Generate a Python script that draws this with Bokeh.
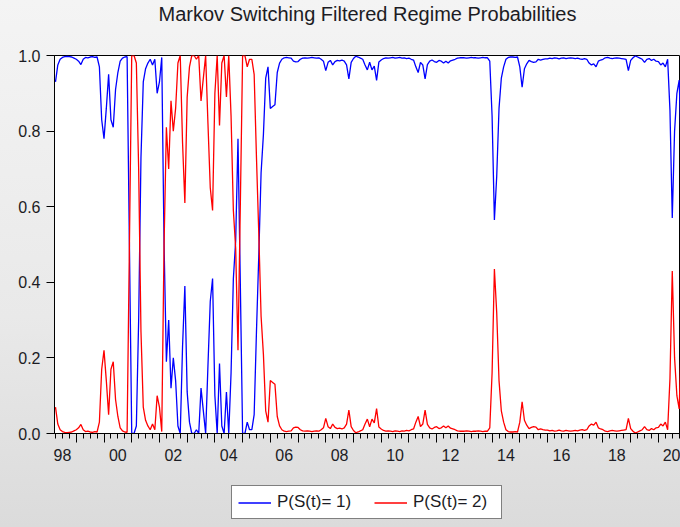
import pandas as pd
from bokeh.plotting import figure
from bokeh.layouts import column
from bokeh.models import (ColumnDataSource, FixedTicker, LinearAxis, Legend,
                          LegendItem, Range1d)
from bokeh.embed import file_html
from bokeh.resources import INLINE

# ---------------- data (monthly) ----------------
start_month = "1998-04-01"
title_text = "Markov Switching Filtered Regime Probabilities"
series_names = ["P(S(t)= 1)", "P(S(t)= 2)"]
series_colors = ["#0000ff", "#ff0000"]

# P(S(t)=1), filtered probability of regime 1
p_regime1 = [
    # 1998 (Apr-Dec)
    0.93, 0.975, 0.99, 0.995, 0.997, 0.998, 0.997, 0.996, 0.993,
    # 1999
    0.99, 0.985, 0.976, 0.99, 0.995, 0.994, 0.996, 0.997, 0.995, 0.996, 0.97, 0.83,
    # 2000
    0.78, 0.86, 0.95, 0.83, 0.81, 0.91, 0.955, 0.985, 0.993, 0.996, 0.997, 0.5,
    # 2001
    0.0, 0.0, 0.02, 0.3, 0.73, 0.93, 0.965, 0.98, 0.99, 0.975, 0.99, 0.90,
    # 2002
    0.93, 0.995, 0.5, 0.19, 0.30, 0.12, 0.20, 0.14, 0.02, 0.0, 0.23, 0.39,
    # 2003
    0.11, 0.03, 0.0, 0.0, 0.01, 0.0, 0.12, 0.06, 0.0, 0.18, 0.35, 0.41,
    # 2004
    0.10, 0.0, 0.185, 0.02, 0.0, 0.11, 0.0, 0.16, 0.41, 0.51, 0.78, 0.40,
    # 2005
    0.0, 0.0, 0.03, 0.01, 0.01, 0.05, 0.27, 0.47, 0.69, 0.79, 0.94, 0.97,
    # 2006
    0.86, 0.865, 0.87, 0.955, 0.98, 0.99, 0.994, 0.995, 0.994, 0.993, 0.985, 0.983,
    # 2007
    0.984, 0.99, 0.993, 0.994, 0.993, 0.994, 0.995, 0.994, 0.993, 0.994, 0.99, 0.985,
    # 2008
    0.96, 0.982, 0.987, 0.975, 0.984, 0.987, 0.986, 0.988, 0.985, 0.975, 0.938, 0.982,
    # 2009
    0.992, 0.998, 0.996, 0.993, 0.99, 0.975, 0.962, 0.982, 0.962, 0.972, 0.934, 0.983,
    # 2010
    0.988, 0.992, 0.994, 0.993, 0.994, 0.995, 0.993, 0.994, 0.995, 0.993, 0.994, 0.992,
    # 2011
    0.993, 0.99, 0.988, 0.97, 0.955, 0.982, 0.975, 0.938, 0.976, 0.985, 0.988, 0.984,
    # 2012
    0.982, 0.987, 0.985, 0.98, 0.985, 0.98, 0.986, 0.988, 0.99, 0.993, 0.994, 0.994,
    # 2013
    0.994, 0.993, 0.994, 0.995, 0.994, 0.994, 0.993, 0.994, 0.995, 0.994, 0.994, 0.985,
    # 2014
    0.84, 0.565, 0.68, 0.86, 0.94, 0.97, 0.99, 0.995, 0.996, 0.996, 0.995, 0.996,
    # 2015
    0.97, 0.916, 0.965, 0.978, 0.987, 0.984, 0.982, 0.983, 0.99, 0.988, 0.99, 0.991,
    # 2016
    0.991, 0.993, 0.992, 0.994, 0.993, 0.991, 0.993, 0.994, 0.992, 0.993, 0.994, 0.993,
    # 2017
    0.992, 0.993, 0.991, 0.99, 0.992, 0.99, 0.98, 0.975, 0.978, 0.97, 0.985, 0.988,
    # 2018
    0.99, 0.994, 0.995, 0.993, 0.992, 0.993, 0.994, 0.993, 0.992, 0.991, 0.99, 0.96,
    # 2019
    0.987, 0.994, 0.999, 0.996, 0.993, 0.99, 0.982, 0.99, 0.992, 0.987, 0.99, 0.985,
    # 2020 (Jan-Nov)
    0.984, 0.975, 0.98, 0.97, 0.99, 0.855, 0.57, 0.80, 0.90, 0.935, 0.72,
]
# two regimes: filtered probabilities are complementary
p_regime2 = [round(1.0 - v, 4) for v in p_regime1]

y_ticks = [0.0, 0.2, 0.4, 0.6, 0.8, 1.0]
y_tick_labels = ["0.0", "0.2", "0.4", "0.6", "0.8", "1.0"]
x_label_years = [1998, 2000, 2002, 2004, 2006, 2008, 2010, 2012, 2014, 2016, 2018, 2020]
x_tick_labels = ["98", "00", "02", "04", "06", "08", "10", "12", "14", "16", "18", "20"]
year_tick_years = list(range(1999, 2021))

# ---------------- build ----------------
dates = pd.date_range(start_month, periods=len(p_regime1), freq="MS")
t = list(dates.year + (dates.month - 1) / 12.0)
src = ColumnDataSource(dict(t=t, p1=p_regime1, p2=p_regime2))

FONT = "Liberation Sans"
TXT = "#1c1c24"

p = figure(frame_width=626, frame_height=378, output_backend="svg", toolbar_location=None,
           x_range=Range1d(1998.214, 2020.797), y_range=Range1d(0, 1),
           x_axis_location=None,
           min_border_left=54, min_border_right=0, min_border_top=55,
           min_border_bottom=40,
           background_fill_color="white", border_fill_alpha=0.0,
           outline_line_color="black", outline_line_width=1)

# invisible spacer axis above the frame lifts the title to the top edge
spacer = LinearAxis(ticker=FixedTicker(ticks=[2009.5], minor_ticks=[]),
                    major_label_overrides={2009.5: " "},
                    major_label_text_font_size="1px", major_label_standoff=0,
                    axis_line_color=None, major_tick_line_color=None,
                    minor_tick_line_color=None, major_tick_out=27,
                    major_tick_in=0, minor_tick_out=0)
p.add_layout(spacer, "above")

p.title.text = title_text
p.title.align = "center"
p.title.text_font = FONT
p.title.text_font_size = "20px"
p.title.text_font_style = "normal"
p.title.text_color = TXT
p.title.standoff = 0

p.xgrid.visible = False
p.ygrid.visible = False

r1 = p.line("t", "p1", source=src, line_color=series_colors[0], line_width=1.3)
r2 = p.line("t", "p2", source=src, line_color=series_colors[1], line_width=1.3)

# y axis
ya = p.yaxis[0]
ya.ticker = FixedTicker(ticks=y_ticks, minor_ticks=[])
ya.major_label_overrides = {v: s for v, s in zip(y_ticks, y_tick_labels)}
ya.major_tick_out = 8
ya.major_tick_in = 0
ya.minor_tick_line_color = None
ya.major_label_standoff = 6
ya.major_label_text_font = FONT
ya.major_label_text_font_size = "16px"
ya.major_label_text_color = TXT
ya.axis_line_color = "black"
ya.major_tick_line_color = "black"

# x axis: ticks only (years long, quarters short)
quarters = [y + q / 4.0 for y in range(1998, 2021) for q in range(4)]
xa = LinearAxis(ticker=FixedTicker(ticks=[float(y) for y in year_tick_years],
                                   minor_ticks=quarters),
                major_label_overrides={float(y): " " for y in year_tick_years},
                major_label_text_font_size="1px", major_label_standoff=0,
                major_tick_out=9, major_tick_in=0, minor_tick_out=5, minor_tick_in=0,
                axis_line_color="black", major_tick_line_color="black",
                minor_tick_line_color="black")
p.add_layout(xa, "below")

# x axis: labels centred in the even years
label_pos = [y + 0.5 for y in x_label_years]
xl = LinearAxis(ticker=FixedTicker(ticks=label_pos, minor_ticks=[]),
                major_label_overrides={v: s for v, s in zip(label_pos, x_tick_labels)},
                axis_line_color=None, major_tick_line_color=None,
                minor_tick_line_color=None, major_tick_out=0, major_tick_in=0,
                major_label_standoff=2, major_label_text_font=FONT,
                major_label_text_font_size="16px", major_label_text_color=TXT)
p.add_layout(xl, "below")

# ---------------- legend strip under the chart ----------------
# its frame shows nothing of the data (x range far from the dates); the lines
# only give the legend its two swatches
leg_src = ColumnDataSource(dict(t=t, p1=p_regime1, p2=p_regime2))
leg_fig = figure(width=680, height=54, output_backend="svg", toolbar_location=None,
                 x_range=Range1d(0, 1), y_range=Range1d(0, 1),
                 x_axis_location=None, y_axis_location=None,
                 min_border=0, min_border_left=0, min_border_right=0,
                 min_border_top=0, min_border_bottom=0,
                 outline_line_color=None,
                 background_fill_alpha=0.0, border_fill_alpha=0.0)
leg_fig.xgrid.visible = False
leg_fig.ygrid.visible = False
k1 = leg_fig.line("t", "p1", source=leg_src, line_color=series_colors[0], line_width=1.3)
k2 = leg_fig.line("t", "p2", source=leg_src, line_color=series_colors[1], line_width=1.3)

legend = Legend(items=[LegendItem(label=series_names[0], renderers=[k1]),
                       LegendItem(label=series_names[1], renderers=[k2])],
                orientation="horizontal", location=(177, 8),
                border_line_color="black", border_line_width=1,
                background_fill_color="white", background_fill_alpha=1.0,
                label_text_font=FONT, label_text_font_size="17px",
                label_text_color=TXT,
                glyph_width=33, glyph_height=19, label_height=19, label_width=82,
                label_standoff=6, spacing=15, padding=6, margin=0)
leg_fig.add_layout(legend, "center")

page = column(p, leg_fig, spacing=0,
              styles={"background": "linear-gradient(180deg, #f4f4f4 0%, #e9e9e9 60%, #dbdbdb 100%)"})

open("out.html", "w").write(file_html(page, INLINE))
